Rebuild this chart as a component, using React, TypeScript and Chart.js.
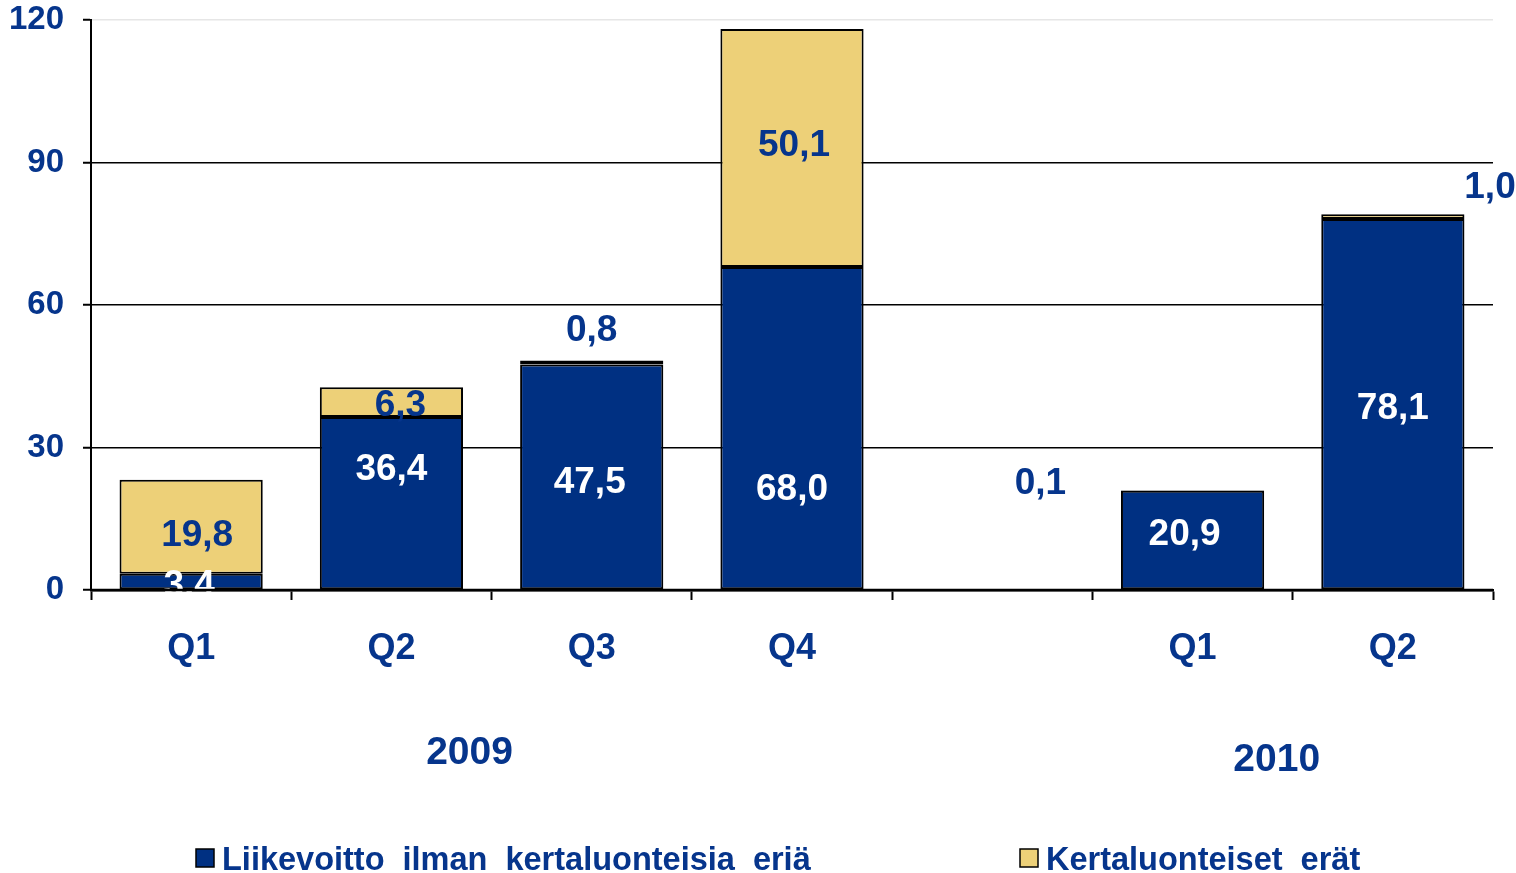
import React, { useEffect, useRef } from 'react';
import { Chart, registerables } from 'chart.js';

Chart.register(...registerables);

// ---- data ----
const categories = ['Q1', 'Q2', 'Q3', 'Q4', '', 'Q1', 'Q2'];
const operatingProfit = [3.4, 36.4, 47.5, 68.0, null, 20.9, 78.1];
const oneOffItems = [19.8, 6.3, 0.8, 50.1, null, 0.1, 1.0];
const seriesNames = ['Liikevoitto ilman kertaluonteisia eriä', 'Kertaluonteiset erät'];
const yMin = 0;
const yMax = 120;
const yStep = 30;
const years = ['2009', '2010'];

// ---- label placement (in scale units) ----
const profitLabelAt = [1.5, 26.0, 23.2, 21.7, null, 12.2, 38.7];
const profitLabelShift = [-0.01, 0, -0.01, 0, 0, -0.04, 0];
const oneOffLabelAt = [12.0, 39.4, 55.2, 94.1, null, 22.9, 85.3];
const oneOffLabelShift = [0.03, 0.045, 0, 0.01, 0, -0.76, 0.485];
const yearAt = [1.39, 5.42];

const NAVY = '#003082';
const YELLOW = '#EDD078';
const TEXT = '#06358C';
const FONT = "'Liberation Sans', Arial, sans-serif";
const LABEL_SIZE = 37;

const fmt = (v: number) => v.toFixed(1).replace('.', ',');

const overlayPlugin = {
  id: 'overlay',
  afterDatasetsDraw(chart: any) {
    const { ctx, chartArea } = chart;
    const xs = chart.scales.x;
    const ys = chart.scales.y;
    const half = LABEL_SIZE * 0.716 / 2;
    ctx.save();
    ctx.font = `bold ${LABEL_SIZE}px ${FONT}`;
    ctx.textAlign = 'center';
    ctx.textBaseline = 'alphabetic';
    categories.forEach((_, i) => {
      const p = operatingProfit[i];
      if (p != null && profitLabelAt[i] != null) {
        ctx.fillStyle = '#ffffff';
        ctx.fillText(fmt(p), xs.getPixelForValue(i + profitLabelShift[i]), ys.getPixelForValue(profitLabelAt[i] as number) + half);
      }
      const o = oneOffItems[i];
      if (o != null && oneOffLabelAt[i] != null) {
        ctx.fillStyle = TEXT;
        ctx.fillText(fmt(o), xs.getPixelForValue(i + oneOffLabelShift[i]), ys.getPixelForValue(oneOffLabelAt[i] as number) + half);
      }
    });
    // redraw x axis line above labels
    ctx.strokeStyle = '#000';
    ctx.lineWidth = 2.5;
    ctx.beginPath();
    ctx.moveTo(chartArea.left, chartArea.bottom);
    ctx.lineTo(chartArea.right, chartArea.bottom);
    ctx.stroke();
    ctx.restore();
  },
  afterDraw(chart: any) {
    const { ctx, chartArea } = chart;
    const xs = chart.scales.x;
    ctx.save();
    // year labels
    ctx.fillStyle = TEXT;
    ctx.font = `bold 39px ${FONT}`;
    ctx.textAlign = 'center';
    ctx.textBaseline = 'alphabetic';
    const yh = 39 * 0.716 / 2;
    ctx.fillText(years[0], xs.getPixelForValue(yearAt[0]), chartArea.bottom + 160 + yh);
    ctx.fillText(years[1], xs.getPixelForValue(yearAt[1]), chartArea.bottom + 167 + yh);
    // legend
    const items = [
      { text: seriesNames[0], color: NAVY, x: 196 },
      { text: seriesNames[1], color: YELLOW, x: 1020 },
    ];
    ctx.font = `bold 32.5px ${FONT}`;
    ctx.textAlign = 'left';
    (ctx as any).wordSpacing = '9px';
    items.forEach((it) => {
      ctx.fillStyle = it.color;
      ctx.fillRect(it.x, 849, 18, 18);
      ctx.strokeStyle = '#000';
      ctx.lineWidth = 1.5;
      ctx.strokeRect(it.x, 849, 18, 18);
      ctx.fillStyle = TEXT;
      ctx.fillText(it.text, it.x + 26, 870);
    });
    ctx.restore();
  },
};

export default function App() {
  const ref = useRef<HTMLCanvasElement | null>(null);
  useEffect(() => {
    if (!ref.current) return;
    const chart = new Chart(ref.current, {
      type: 'bar',
      data: {
        labels: categories,
        datasets: [
          {
            label: seriesNames[0],
            data: operatingProfit as any,
            backgroundColor: NAVY,
            borderColor: '#000',
            borderWidth: 2,
            borderSkipped: false,
            barPercentage: 0.715,
            categoryPercentage: 1,
          },
          {
            label: seriesNames[1],
            data: oneOffItems as any,
            backgroundColor: YELLOW,
            borderColor: '#000',
            borderWidth: 2,
            borderSkipped: false,
            barPercentage: 0.715,
            categoryPercentage: 1,
          },
        ],
      },
      options: {
        responsive: false,
        animation: false,
        layout: { padding: { top: 20, right: 23, left: 0, bottom: 0 } },
        plugins: { legend: { display: false }, tooltip: { enabled: false } },
        scales: {
          x: {
            stacked: true,
            offset: true,
            grid: { offset: true, drawOnChartArea: false, tickLength: 10, tickColor: '#000', tickWidth: 2 },
            border: { color: '#000', width: 2.5 },
            ticks: {
              color: TEXT,
              font: { family: FONT, weight: 'bold', size: 36 },
              padding: 27,
              autoSkip: false,
              maxRotation: 0,
            },
            afterFit: (s: any) => {
              s.height = 283;
            },
          },
          y: {
            stacked: true,
            min: yMin,
            max: yMax,
            ticks: {
              stepSize: yStep,
              color: TEXT,
              font: { family: FONT, weight: 'bold', size: 33 },
              padding: 19,
            },
            grid: {
              color: (c: any) => (c.tick && c.tick.value === yMax ? '#e6e6e6' : '#000'),
              lineWidth: 1.5,
              tickLength: 8,
              tickColor: '#000',
              tickWidth: 2,
            },
            border: { color: '#000', width: 2 },
            afterFit: (s: any) => {
              s.width = 91;
              s.paddingTop = 0;
            },
          },
        },
      } as any,
      plugins: [overlayPlugin],
    });
    return () => chart.destroy();
  }, []);
  return (
    <div style={{ position: 'absolute', left: 0, top: 0, width: 1516, height: 873, background: '#fff' }}>
      <canvas ref={ref} width={1516} height={873} />
    </div>
  );
}
